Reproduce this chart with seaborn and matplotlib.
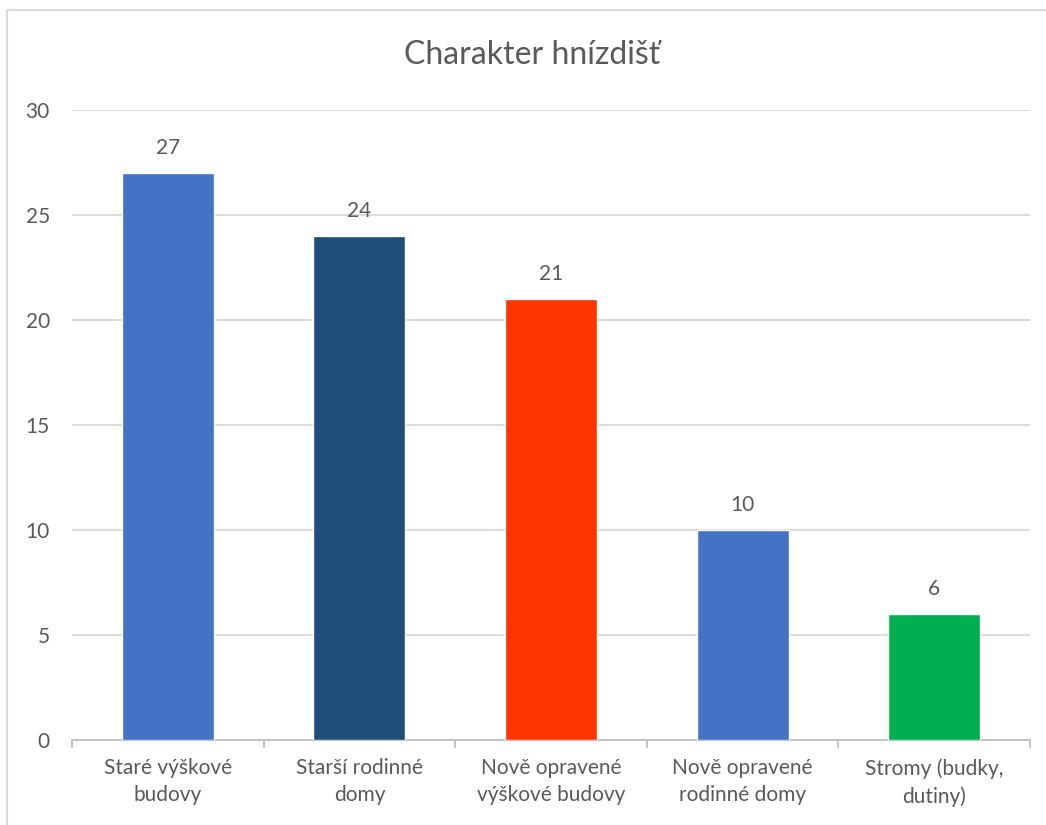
import matplotlib
matplotlib.use("Agg")
import matplotlib.pyplot as plt
import seaborn as sns
import pandas as pd
from matplotlib.patches import Rectangle

# data
categories = ["Staré výškové\nbudovy", "Starší rodinné\ndomy", "Nově opravené\nvýškové budovy",
              "Nově opravené\nrodinné domy", "Stromy (budky,\ndutiny)"]
values = [27, 24, 21, 10, 6]
bar_colors = ["#4472C4", "#1F4E79", "#FF3300", "#4472C4", "#00B050"]

sns.set_theme(style="white")
plt.rcParams["font.family"] = ["Lato", "DejaVu Sans"]
TXT = "#595959"

df = pd.DataFrame({"cat": categories, "val": values})

fig = plt.figure(figsize=(10.46, 8.25), dpi=100)
ax = fig.add_axes([72 / 1046, 1 - 740 / 825, (1030 - 72) / 1046, (740 - 110) / 825])

# outer chart frame
fig.patches.append(Rectangle((7 / 1046, -0.01), 1.05, 1 - 10 / 825 + 0.01, transform=fig.transFigure,
                             fill=False, edgecolor="#D9D9D9", linewidth=1.5, zorder=0))

sns.barplot(data=df, x="cat", y="val", hue="cat", palette=bar_colors, legend=False,
            width=0.48, saturation=1, ax=ax, zorder=3)

ax.set_ylim(0, 30)
ax.set_yticks(range(0, 31, 5))
ax.set_xlim(-0.5, len(categories) - 0.5)
ax.yaxis.grid(True, color="#D9D9D9", linewidth=1.3, zorder=0)
ax.set_axisbelow(True)
for s in ["top", "right", "left"]:
    ax.spines[s].set_visible(False)
ax.spines["bottom"].set_color("#BFBFBF")
ax.spines["bottom"].set_linewidth(1.3)

ax.set_xlabel("")
ax.set_ylabel("")
ax.tick_params(axis="y", length=0, pad=16, labelsize=15, labelcolor=TXT)
ax.tick_params(axis="x", length=0, pad=13, labelsize=15, labelcolor=TXT)
for lbl in ax.get_xticklabels():
    lbl.set_linespacing(1.45)

# category separator ticks
ax.set_xticks([i - 0.5 for i in range(len(categories) + 1)], minor=True)
ax.tick_params(axis="x", which="minor", bottom=True, length=6, color="#BFBFBF", width=1.3)

for c in ax.containers:
    ax.bar_label(c, padding=11, fontsize=15, color=TXT)

fig.text(532 / 1046, 1 - 55 / 825, "Charakter hnízdišť", ha="center", va="center",
         fontsize=23, color=TXT)

fig.savefig("out.png", dpi=100)
